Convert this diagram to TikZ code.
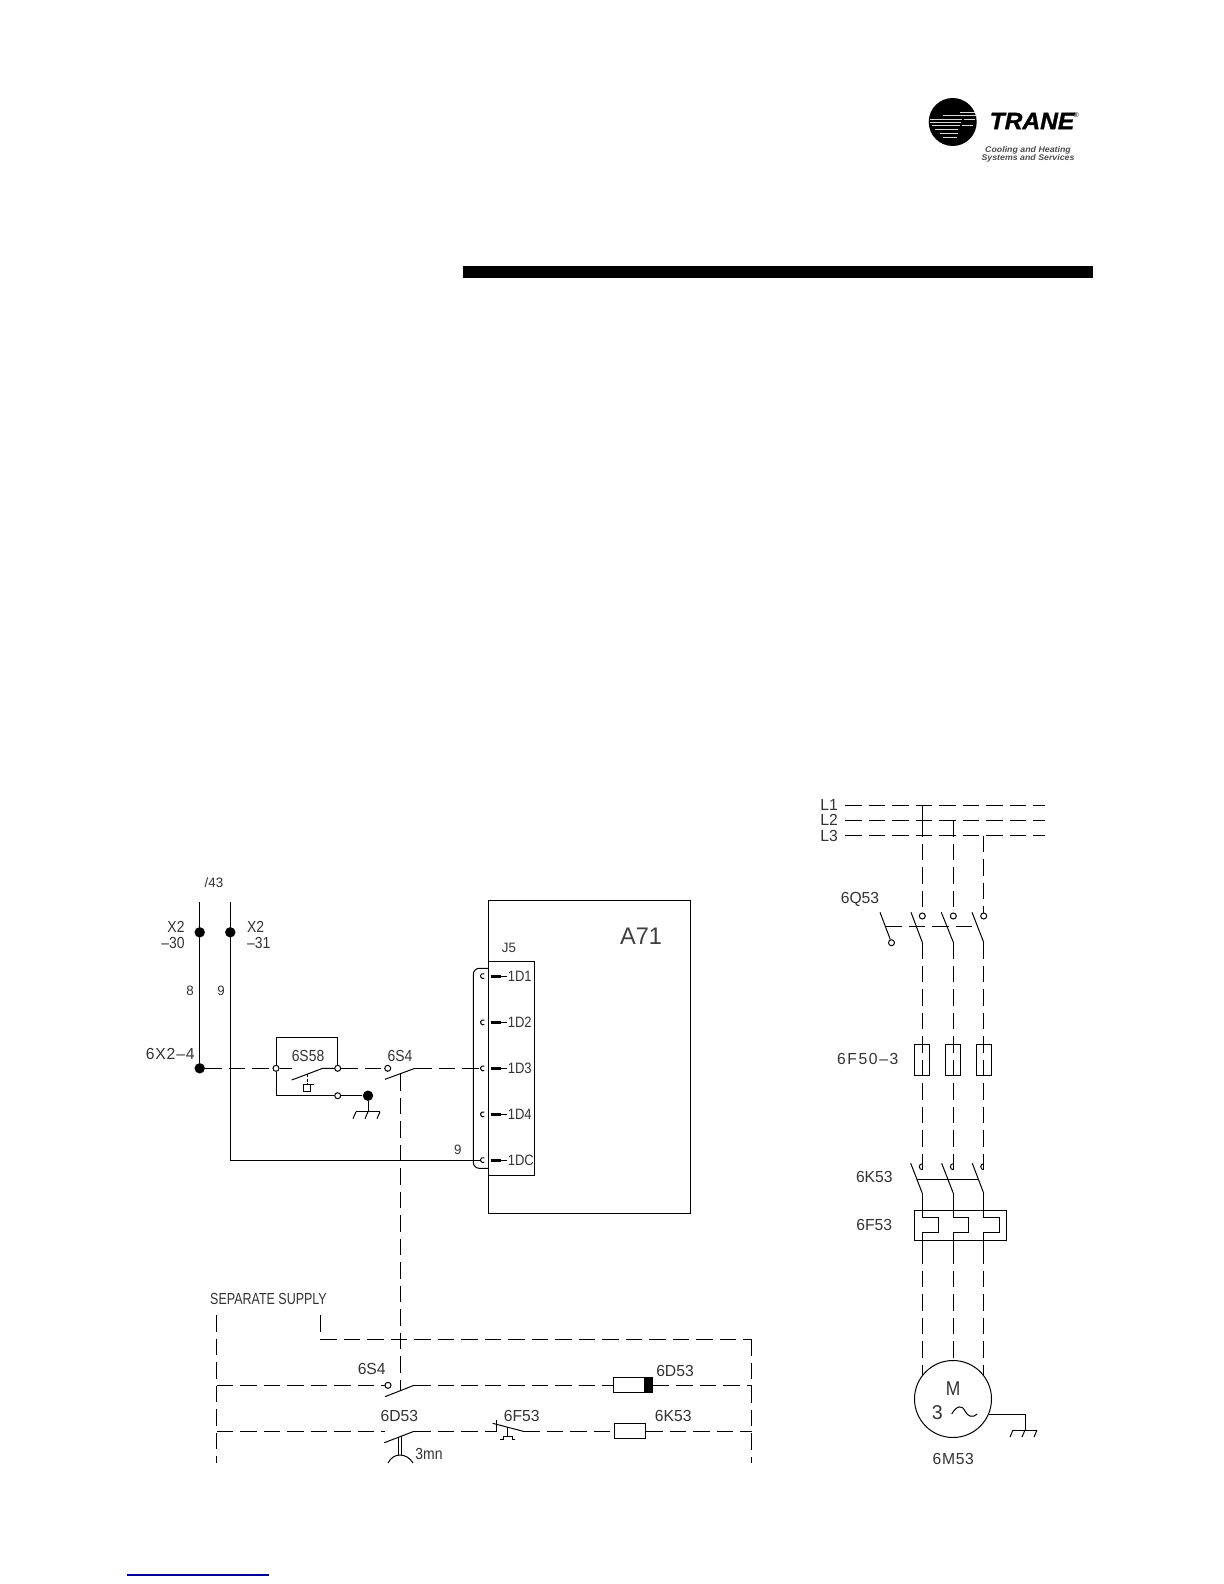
\documentclass[tikz,border=0pt]{standalone}
\usepackage{fontspec}
\newfontfamily\cadfont[FakeStretch=0.87,Ligatures=TeX]{Liberation Sans}
\newfontfamily\cadwide[FakeStretch=0.98,Ligatures=TeX]{Liberation Sans}
\newfontfamily\cadthin[FakeStretch=0.78]{Liberation Sans}
\newfontfamily\logofont[FakeStretch=1.06]{Liberation Sans}
\newfontfamily\tranefont[FakeStretch=1.04,BoldItalicFeatures={FakeBold=1.3}]{Liberation Sans}

\begin{document}
\begin{tikzpicture}
        [
        x = 0.5pt, y = -0.5pt,
        line width = 0.5pt,
        feed/.style = {
            dash pattern = on 8.25pt off 3.5pt,
        },
        tag/.style = {
            inner sep = 0pt, text = black!80,
            font = \cadfont\fontsize{8}{9}\selectfont,
        },
        pintag/.style = {
            inner sep = 0pt, text = black!80,
            font = \cadfont\fontsize{7.5}{9}\selectfont,
        },
        widetag/.style = {
            inner sep = 0pt, text = black!80,
            font = \cadwide\fontsize{8}{9}\selectfont,
        },
        smalltag/.style = {
            inner sep = 0pt, text = black!80,
            font = \cadwide\fontsize{6.8}{8}\selectfont,
        },
        dot/.style = {
            circle, fill, inner sep = 0pt,
            minimum size = 5.2pt,
        },
        contact/.style = {
            circle, draw, fill = white, inner sep = 0pt,
            minimum size = 3pt,
        },
        fuse/.style = {
            draw, inner sep = 0pt,
            minimum width = 7.65pt,
            minimum height = 15.35pt,
        },
        coil/.style = {
            draw, inner sep = 0pt,
            minimum height = 7.65pt,
        },
        jack/.pic = {
            \draw (1.3,2.2) arc (60:300:2.5);
        },
        aux/.pic = {
            \draw (0,3) arc (90:270:3);
        },
        earth/.pic = {
            \draw (-12,0) -- (12,0);
            \draw (-12,0) -- (-15,7);
            \draw (0,0) -- (-3,7);
            \draw (12,0) -- (9,7);
        },
        ]
        \useasboundingbox (0,0) rectangle (1224,1584);

        % Logo
        \fill[black] (952.7,122) circle (24);
        \path
            [
            draw = white!85!black,
            line width = 0.45pt
            ]
            (960,112.3) edge (975,112.3)
            (943,115.7) edge (977,115.7)
            (930,119) edge (961.7,119)
            (964,119) edge (975,119)
            (930,122.3) edge (961,122.3)
            (932,125.7) edge (960,125.7)
            (962,125.7) edge (973,125.7)
            (935,129.7) edge (958,129.7)
            (940,133.7) edge (958,133.7)
            (943,137) edge (957,137);
        \node[inner sep = 0pt, font = \tranefont\bfseries\itshape\fontsize{11.8}{12}\selectfont] (logo_name) at (1032,121) {TRANE};
        \node[inner sep = 0pt, font = \logofont\fontsize{3.5}{4}\selectfont] (logo_reg) at (1076,115) {®};
        \node[inner sep = 0pt, text = black!70, font = \logofont\bfseries\itshape\fontsize{4.15}{5}\selectfont] (logo_line_a) at (1028,150) {Cooling and Heating};
        \node[inner sep = 0pt, text = black!70, font = \logofont\bfseries\itshape\fontsize{4.15}{5}\selectfont] (logo_line_b) at (1028,158.3) {Systems and Services};

        % Titelbalk
        \node[fill, inner sep = 0pt, minimum width = 315pt, minimum height = 6pt] (title_bar) at (778,272) {};

        % Voeding links
        \coordinate (x2a_top) at (199.7,902);
        \coordinate (x2b_top) at (230.3,902);
        \coordinate (x2b_corner) at (230.3,1160);
        \node[dot] (x2a_dot) at (199.7,932.3) {};
        \node[dot] (x2b_dot) at (230.3,932.3) {};
        \node[dot] (x2a_end) at (199.7,1068.3) {};
        \node[smalltag] (sheet_ref) at (214,883) {/43};
        \node[tag, anchor = east] (x2a_name) at (185,926.7) {X2};
        \node[tag, anchor = east] (x2a_pin) at (185,943) {--30};
        \node[tag, anchor = west] (x2b_name) at (246.7,926.7) {X2};
        \node[tag, anchor = west] (x2b_pin) at (246.7,943) {--31};
        \node[smalltag] (wire_8) at (190,991) {8};
        \node[smalltag] (wire_9) at (221,991) {9};
        \node[widetag, anchor = east] (x2_tap) at (195,1054) {\addfontfeature{LetterSpace=5}6X2--4};

        % 6S58
        \node[contact] (s58_in) at (276,1068.3) {};
        \node[contact] (s58_out) at (337.7,1068.3) {};
        \node[contact] (s58_com) at (337.7,1095.7) {};
        \node[dot] (gnd_dot) at (368,1095.7) {};
        \coordinate (s58_tl) at (276,1037.3);
        \coordinate (s58_tr) at (337.7,1037.3);
        \coordinate (s58_bl) at (276,1095.7);
        \coordinate (s58_open) at (291.7,1068.3);
        \coordinate (s58_low) at (291.7,1080);
        \coordinate (s58_high) at (322.7,1068.3);
        \coordinate (gnd_foot) at (368,1111.7);
        \node[tag] (s58_name) at (308,1055.7) {6S58};
        \draw (s58_in) -- (s58_tl) -- (s58_tr) -- (s58_out);
        \draw (s58_in) -- (s58_bl) -- (s58_com);
        \draw (s58_low) -- (s58_high) -- (s58_out);
        \draw (s58_in) -- (s58_open);
        \draw[dash pattern = on 1.5pt off 0.8pt] (307,1074) -- (307,1084);
        \draw (303.3,1084) rectangle (310.7,1091.3);
        \draw (310.7,1084) -- (314,1084);
        \pic at (gnd_foot) {earth};

        % 6S4 boven
        \node[contact] (s4_top_in) at (387.7,1068.3) {};
        \coordinate (s4_top_low) at (385,1079.3);
        \coordinate (s4_top_high) at (415,1068.3);
        \coordinate (s4_link_top) at (400.3,1074);
        \coordinate (s4_link_bottom) at (400.3,1390);
        \node[tag] (s4_top_name) at (400,1056) {6S4};

        % A71
        \node[draw, inner sep = 0pt, minimum width = 101.2pt, minimum height = 156.7pt] (a71_box) at (589.5,1056.7) {};
        \node[draw, inner sep = 0pt, minimum width = 23.2pt, minimum height = 107.15pt] (j5_box) at (511.5,1068.2) {};
        \node[inner sep = 0pt, text = black!75, font = \cadwide\fontsize{12}{13}\selectfont] (a71_name) at (641,936.7) {A71};
        \node[smalltag] (j5_name) at (509,948) {J5};
        \node[smalltag] (wire_9b) at (457.7,1150) {9};
        \coordinate (d1_jack) at (483,976);
        \coordinate (d2_jack) at (483,1022.3);
        \coordinate (d3_jack) at (483,1068.3);
        \coordinate (d4_jack) at (483,1114.3);
        \coordinate (dc_jack) at (483,1160);
        \coordinate (d3_tip) at (480.5,1068.3);
        \coordinate (dc_tip) at (480.5,1160);
        \pic at (d1_jack) {jack};
        \pic at (d2_jack) {jack};
        \pic at (d3_jack) {jack};
        \pic at (d4_jack) {jack};
        \pic at (dc_jack) {jack};
        \node[pintag, anchor = west] (d1_name) at (507.3,976) {1D1};
        \node[pintag, anchor = west] (d2_name) at (507.3,1022.3) {1D2};
        \node[pintag, anchor = west] (d3_name) at (507.3,1068.3) {1D3};
        \node[pintag, anchor = west] (d4_name) at (507.3,1114.3) {1D4};
        \node[pintag, anchor = west] (dc_name) at (507.3,1160) {1DC};
        \coordinate (d1_pin) at (490.7,976);
        \coordinate (d2_pin) at (490.7,1022.3);
        \coordinate (d3_pin) at (490.7,1068.3);
        \coordinate (d4_pin) at (490.7,1114.3);
        \coordinate (dc_pin) at (490.7,1160);
        \path
            [
            line width = 1.5pt
            ]
            (d1_pin) edge ++(10,0)
            (d2_pin) edge ++(10,0)
            (d3_pin) edge ++(10,0)
            (d4_pin) edge ++(10,0)
            (dc_pin) edge ++(10,0);
        \path
            (d1_name) edge (d1_pin)
            (d2_name) edge (d2_pin)
            (d3_name) edge (d3_pin)
            (d4_name) edge (d4_pin)
            (dc_name) edge (dc_pin);
        \draw[rounded corners = 3pt] (488.3,968.3) -- (473.3,968.3) -- (473.3,1168.3) -- (488.3,1168.3);

        % Verbindingen links
        \path
            (x2a_top) edge (x2a_end)
            (x2b_top) edge (x2b_corner)
            (x2b_corner) edge (dc_tip)
            (s58_com) edge (gnd_dot)
            (gnd_dot) edge (gnd_foot)
            (s4_top_low) edge (s4_top_high);
        \path
            [
            feed
            ]
            (x2a_end) edge (s58_in)
            (s58_out) edge (s4_top_in)
            (s4_top_high) edge (d3_tip)
            (s4_link_top) edge (s4_link_bottom);

        % Aparte voeding
        \coordinate (rail_l_top) at (216.7,1315);
        \coordinate (rail_l_bottom) at (216.7,1463);
        \coordinate (rail_r_top) at (320.3,1315);
        \coordinate (rail_r_corner) at (320.3,1339.3);
        \coordinate (rail_r_turn) at (751.7,1339.3);
        \coordinate (rail_r_bottom) at (751.7,1463);
        \coordinate (row1_l) at (216.7,1385.3);
        \coordinate (row1_r) at (751.7,1385.3);
        \coordinate (row2_l) at (216.7,1431.3);
        \coordinate (row2_gap) at (385,1431.3);
        \coordinate (row2_r) at (751.7,1431.3);
        \node[inner sep = 0pt, text = black!80, font = \cadthin\fontsize{8}{9}\selectfont] (supply_name) at (268.5,1299.3) {SEPARATE SUPPLY};

        \node[contact] (s4_low_in) at (388,1385.3) {};
        \coordinate (s4_low_low) at (385,1396.7);
        \coordinate (s4_low_high) at (414,1385.3);
        \node[widetag] (s4_low_name) at (371.7,1369.3) {6S4};

        \node[coil, minimum width = 19.5pt] (d53_coil) at (632.8,1385.3) {};
        \node[fill, inner sep = 0pt, minimum width = 4.2pt, minimum height = 7.65pt] (d53_mark) at (648.2,1385.3) {};
        \node[widetag] (d53_name) at (675,1370.7) {6D53};

        \coordinate (d53_low) at (384.3,1442.7);
        \coordinate (d53_high) at (414,1431.3);
        \node[widetag] (d53_contact_name) at (399.3,1416) {6D53};
        \node[tag] (delay_name) at (429,1454) {3mn};
        \draw (398.3,1437) -- (398.3,1455);
        \draw (401.7,1436) -- (401.7,1455);
        \draw (388,1463) .. controls (391,1457) and (396,1455) .. (400,1455) .. controls (405,1455) and (410,1458) .. (413,1463);

        \coordinate (f53_nc_l) at (496.7,1431.3);
        \coordinate (f53_nc_r) at (523.3,1431.3);
        \node[widetag] (f53_contact_name) at (521.7,1416) {6F53};
        \draw (492.7,1423.3) -- (f53_nc_r);
        \draw (496.7,1420) -- (f53_nc_l);
        \draw (507.3,1427) -- (507.3,1436);
        \draw (500,1439.3) -- (503,1439.3) -- (503,1436) -- (512,1436) -- (512,1439.3) -- (515,1439.3);

        \node[coil, minimum width = 15.7pt] (k53_coil) at (630,1431.3) {};
        \node[widetag] (k53_coil_name) at (673.3,1416) {6K53};

        \path
            (s4_low_low) edge (s4_low_high)
            (d53_low) edge (d53_high);
        \path
            [
            feed
            ]
            (rail_l_top) edge (rail_l_bottom)
            (rail_r_top) edge (rail_r_corner)
            (rail_r_corner) edge (rail_r_turn)
            (rail_r_turn) edge (rail_r_bottom)
            (row1_l) edge (s4_low_in)
            (s4_low_high) edge (d53_coil)
            (d53_mark) edge (row1_r)
            (row2_l) edge (row2_gap)
            (d53_high) edge (f53_nc_l)
            (f53_nc_r) edge (k53_coil)
            (k53_coil) edge (row2_r);

        % Net
        \coordinate (l1_l) at (845,805);
        \coordinate (l1_r) at (1045,805);
        \coordinate (l2_l) at (845,820.3);
        \coordinate (l2_r) at (1045,820.3);
        \coordinate (l3_l) at (845,835.7);
        \coordinate (l3_r) at (1045,835.7);
        \node[widetag, anchor = east] (l1_name) at (838.3,805) {L1};
        \node[widetag, anchor = east] (l2_name) at (838.3,820.3) {L2};
        \node[widetag, anchor = east] (l3_name) at (838.3,835.7) {L3};
        \coordinate (a_l1) at (922.3,805);
        \coordinate (a_l2) at (922.3,820.3);
        \coordinate (b_l2) at (953.3,820.3);
        \coordinate (c_l3) at (983.7,835.7);

        % 6Q53
        \node[contact] (q53_a) at (922.3,916) {};
        \node[contact] (q53_b) at (953.3,916) {};
        \node[contact] (q53_c) at (983.7,916) {};
        \node[contact] (q53_handle) at (891.5,942.7) {};
        \coordinate (q53_a_top) at (911,912.3);
        \coordinate (q53_b_top) at (941.3,912.3);
        \coordinate (q53_c_top) at (972,912.3);
        \coordinate (q53_a_foot) at (922.3,942.3);
        \coordinate (q53_b_foot) at (953.3,942.3);
        \coordinate (q53_c_foot) at (983.7,942.3);
        \coordinate (q53_handle_top) at (880,912.3);
        \coordinate (q53_link_l) at (885,926);
        \coordinate (q53_link_r) at (977,926);
        \node[widetag] (q53_name) at (860,899.3) {6Q53};

        % 6F50-3
        \node[fuse] (f50_a) at (922.3,1059.7) {};
        \node[fuse] (f50_b) at (953.3,1059.7) {};
        \node[fuse] (f50_c) at (983.7,1059.7) {};
        \node[widetag] (f50_name) at (867.7,1059.3) {\addfontfeature{LetterSpace=10}6F50--3};

        % 6K53
        \coordinate (k53_a) at (922.3,1170);
        \coordinate (k53_b) at (953.3,1170);
        \coordinate (k53_c) at (983.7,1170);
        \coordinate (k53_a_top) at (910.7,1163.3);
        \coordinate (k53_b_top) at (941.7,1163.3);
        \coordinate (k53_c_top) at (972.3,1163.3);
        \coordinate (k53_a_foot) at (922.3,1193.3);
        \coordinate (k53_b_foot) at (953.3,1193.3);
        \coordinate (k53_c_foot) at (983.7,1193.3);
        \coordinate (k53_link_l) at (916.7,1179.3);
        \coordinate (k53_link_r) at (978.3,1179.3);
        \pic at (922.3,1166.7) {aux};
        \pic at (953.3,1166.7) {aux};
        \pic at (983.7,1166.7) {aux};
        \node[widetag] (k53_name) at (874.3,1177.3) {6K53};

        % 6F53
        \node[draw, inner sep = 0pt, minimum width = 45.8pt, minimum height = 15pt] (f53_box) at (960.5,1225) {};
        \node[widetag] (f53_name) at (874.3,1225) {6F53};
        \draw (k53_a_foot) |- (938,1217.3) -- (938,1232.3) -| (922.3,1247);
        \draw (k53_b_foot) |- (968.7,1217.3) -- (968.7,1232.3) -| (953.3,1247);
        \draw (k53_c_foot) |- (999.7,1217.3) -- (999.7,1232.3) -| (983.7,1247);
        \coordinate (f53_a_out) at (922.3,1247);
        \coordinate (f53_b_out) at (953.3,1247);
        \coordinate (f53_c_out) at (983.7,1247);

        % 6M53
        \node[draw, circle, inner sep = 0pt, minimum size = 38.5pt] (motor) at (953,1399) {};
        \node[inner sep = 0pt, text = black!80, font = \cadfont\fontsize{10}{11}\selectfont] (motor_m) at (953,1388.3) {M};
        \node[inner sep = 0pt, text = black!80, font = \cadwide\fontsize{10}{11}\selectfont] (motor_phase) at (937.3,1412.7) {3};
        \draw (951.7,1414) .. controls (957,1405) and (962,1405) .. (965,1411) .. controls (968,1417) and (973,1418) .. (977.3,1414);
        \node[widetag] (motor_name) at (953.3,1459.3) {\addfontfeature{LetterSpace=4}6M53};
        \coordinate (motor_a) at (922.3,1376);
        \coordinate (motor_b) at (953.3,1360.7);
        \coordinate (motor_c) at (983.7,1376);
        \coordinate (motor_pe) at (989,1414.3);
        \coordinate (pe_corner) at (1025,1414.3);
        \coordinate (pe_foot) at (1025,1430);
        \pic at (pe_foot) {earth};

        % Verbindingen rechts
        \path
            (a_l1) edge (a_l2)
            (q53_a_top) edge (q53_a_foot)
            (q53_b_top) edge (q53_b_foot)
            (q53_c_top) edge (q53_c_foot)
            (q53_handle_top) edge (q53_handle)
            (k53_a_top) edge (k53_a_foot)
            (k53_b_top) edge (k53_b_foot)
            (k53_c_top) edge (k53_c_foot)
            (k53_link_l) edge (k53_link_r)
            (motor_pe) edge (pe_corner)
            (pe_corner) edge (pe_foot);
        \path
            [
            feed
            ]
            (l1_l) edge (l1_r)
            (l2_l) edge (l2_r)
            (l3_l) edge (l3_r)
            (a_l2) edge (q53_a)
            (b_l2) edge (q53_b)
            (c_l3) edge (q53_c)
            (q53_link_l) edge (q53_link_r)
            (q53_a_foot) edge (k53_a)
            (q53_b_foot) edge (k53_b)
            (q53_c_foot) edge (k53_c)
            (f53_a_out) edge (motor_a)
            (f53_b_out) edge (motor_b)
            (f53_c_out) edge (motor_c);

        % Onderrand
        \coordinate (rule_l) at (127,1575);
        \coordinate (rule_r) at (269,1575);
        \path
            [
            draw = blue!60!black,
            line width = 0.7pt
            ]
            (rule_l) edge (rule_r);
    \end{tikzpicture}
\end{document}
